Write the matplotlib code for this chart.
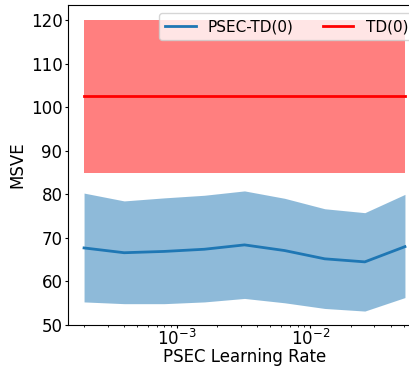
import matplotlib
matplotlib.use("Agg")
import matplotlib.pyplot as plt
import numpy as np

lrs = [2e-4, 4e-4, 8e-4, 1.6e-3, 3.2e-3, 6.4e-3, 1.28e-2, 2.56e-2, 5.12e-2]
psec_mean = [67.7, 66.6, 66.9, 67.4, 68.4, 67.1, 65.2, 64.5, 68.0]
psec_upper = [80.3, 78.5, 79.2, 79.8, 80.8, 79.1, 76.7, 75.8, 80.0]
psec_lower = [55.3, 54.9, 54.9, 55.3, 56.1, 55.1, 53.8, 53.2, 56.3]
td_mean = 102.5
td_upper = 120.0
td_lower = 85.0

W, H = 409, 366
fig = plt.figure(figsize=(W / 100, H / 100), dpi=100)
ax = fig.add_axes([68 / W, (H - 325) / H, (421 - 68) / W, (325 - 5) / H])

ax.fill_between(lrs, psec_lower, psec_upper, color="tab:blue", alpha=0.5, linewidth=0)
l1, = ax.plot(lrs, psec_mean, color="tab:blue", lw=2, label="PSEC-TD(0)")
ax.fill_between(lrs, [td_lower] * len(lrs), [td_upper] * len(lrs), color="red", alpha=0.5, linewidth=0)
l2, = ax.plot(lrs, [td_mean] * len(lrs), color="red", lw=2, label="TD(0)")

ax.set_xscale("log")
ax.set_ylim(50, 123.5)
ax.set_yticks([50, 60, 70, 80, 90, 100, 110, 120])
ax.tick_params(which="major", labelsize=12, length=2.5, pad=1.5)
ax.tick_params(axis="x", which="major", pad=0.5)
ax.tick_params(which="minor", length=1.5)
ax.set_xlabel("PSEC Learning Rate", fontsize=12, labelpad=-1)
ax.set_ylabel("MSVE", fontsize=12, labelpad=3)
ax.spines["right"].set_visible(False)
ax.legend(loc="upper left", ncol=2, fontsize=11,
          bbox_to_anchor=(159 / W, 1 - 13 / H), bbox_transform=fig.transFigure,
          borderaxespad=0, columnspacing=1.9)

fig.savefig("out.png", dpi=100)
